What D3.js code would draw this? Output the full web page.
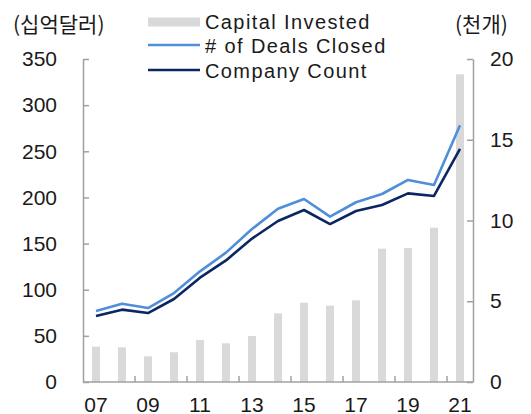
<!DOCTYPE html>
<html>
<head>
<meta charset="utf-8">
<script src="https://cdn.jsdelivr.net/npm/d3@7/dist/d3.min.js"></script>
<style>
  html, body { margin: 0; padding: 0; background: #fff; }
  svg { display: block; }
  text { font-family: "Liberation Sans", Arial, "Noto Sans CJK KR", sans-serif; fill: #1a1a1a; }
  .kr { font-family: "Noto Sans CJK KR", "Liberation Sans", sans-serif; }
</style>
</head>
<body>
<svg id="chart" width="531" height="414"></svg>
<script>
// Years (20xx) shown along the horizontal axis
const years = ['07','08','09','10','11','12','13','14','15','16','17','18','19','20','21'];
// Capital invested, billions of dollars (left axis)
const capitalInvested = [38.3, 37.6, 27.8, 32.2, 45.5, 41.9, 49.8, 74.4, 85.9, 82.7, 88.5, 144.5, 145.2, 167.2, 333.4];
// Number of deals closed, thousands (right axis)
const dealsClosed = [4.40, 4.85, 4.58, 5.51, 6.85, 8.01, 9.47, 10.73, 11.33, 10.24, 11.13, 11.64, 12.51, 12.20, 15.90];
// Number of companies, thousands (right axis)
const companyCount = [4.09, 4.48, 4.27, 5.14, 6.46, 7.53, 8.88, 9.97, 10.65, 9.78, 10.59, 10.96, 11.68, 11.52, 14.43];
// Axis ticks and labels
const leftTicks = [0, 50, 100, 150, 200, 250, 300, 350];
const rightTicks = [0, 5, 10, 15, 20];
const yearLabels = ['07','09','11','13','15','17','19','21'];
const seriesNames = ['Capital Invested', '# of Deals Closed', 'Company Count'];

const colors = { bar: '#d9d9d9', deals: '#4f8fd9', company: '#0b2763', axis: '#a0a0a0' };
const plot = { left: 83, right: 473, top: 59, bottom: 382 };
const fontSize = 21;

const svg = d3.select('#chart');

const x = d3.scaleBand().domain(years).range([plot.left, plot.right]).paddingInner(0).paddingOuter(0);
const yL = d3.scaleLinear().domain([0, 350]).range([plot.bottom, plot.top]);
const yR = d3.scaleLinear().domain([0, 20]).range([plot.bottom, plot.top]);
const cx = d => x(d) + x.bandwidth() / 2;
const barW = 8;

// Bars
svg.append('g').selectAll('rect').data(years).join('rect')
  .attr('x', (d) => cx(d) - barW / 2)
  .attr('width', barW)
  .attr('y', (d, i) => yL(capitalInvested[i]))
  .attr('height', (d, i) => plot.bottom - yL(capitalInvested[i]))
  .attr('fill', colors.bar);

// Lines
const line = d3.line().x((d, i) => cx(years[i])).y(d => yR(d));
svg.append('path').datum(dealsClosed).attr('d', line)
  .attr('fill', 'none').attr('stroke', colors.deals).attr('stroke-width', 2.6).attr('stroke-linejoin', 'round');
svg.append('path').datum(companyCount).attr('d', line)
  .attr('fill', 'none').attr('stroke', colors.company).attr('stroke-width', 2.6).attr('stroke-linejoin', 'round');

// Left axis
const axL = svg.append('g').attr('transform', `translate(${plot.left},0)`)
  .call(d3.axisLeft(yL).tickValues(leftTicks).tickSizeInner(-6).tickSizeOuter(0).tickPadding(26));
// Right axis
const axR = svg.append('g').attr('transform', `translate(${plot.right},0)`)
  .call(d3.axisRight(yR).tickValues(rightTicks).tickSizeInner(-6).tickSizeOuter(0).tickPadding(17));
[axL, axR].forEach(ax => {
  ax.select('.domain').attr('stroke', colors.axis).attr('stroke-width', 1.5);
  ax.selectAll('.tick line').attr('stroke', colors.axis).attr('stroke-width', 1.5);
  ax.selectAll('.tick text').attr('font-size', fontSize).attr('font-family', null).attr('fill', '#1a1a1a');
});

// Bottom axis: baseline, inward ticks every two years, labels under odd years
svg.append('line').attr('x1', plot.left).attr('x2', plot.right)
  .attr('y1', plot.bottom).attr('y2', plot.bottom)
  .attr('stroke', colors.axis).attr('stroke-width', 1.5);
svg.append('g').selectAll('line').data(years.filter((d, i) => i > 0 && i % 2 === 0)).join('line')
  .attr('x1', d => x(d)).attr('x2', d => x(d))
  .attr('y1', plot.bottom).attr('y2', plot.bottom - 6)
  .attr('stroke', colors.axis).attr('stroke-width', 1.5);
svg.append('g').selectAll('text').data(yearLabels).join('text')
  .attr('x', d => cx(d)).attr('y', 411.5)
  .attr('text-anchor', 'middle').attr('font-size', fontSize).text(d => d);

// Axis unit titles
svg.append('text').attr('class', 'kr').attr('x', 13).attr('y', 32).attr('font-size', fontSize).text('(십억달러)');
svg.append('text').attr('class', 'kr').attr('x', 455).attr('y', 32).attr('font-size', fontSize).text('(천개)');

// Legend
const lg = svg.append('g');
const lgX = 148, lgW = 52, lgTextX = 205, lgRows = [22, 45, 70];
lg.append('rect').attr('x', lgX).attr('y', lgRows[0] - 4.5).attr('width', lgW).attr('height', 9).attr('fill', colors.bar);
lg.append('line').attr('x1', lgX).attr('x2', lgX + lgW).attr('y1', lgRows[1]).attr('y2', lgRows[1])
  .attr('stroke', colors.deals).attr('stroke-width', 2.6);
lg.append('line').attr('x1', lgX).attr('x2', lgX + lgW).attr('y1', lgRows[2]).attr('y2', lgRows[2])
  .attr('stroke', colors.company).attr('stroke-width', 2.6);
lg.selectAll('text').data(seriesNames).join('text')
  .attr('x', lgTextX).attr('y', (d, i) => [28.5, 53.3, 77.7][i])
  .attr('font-size', 20).attr('letter-spacing', 1.4).text(d => d);
</script>
</body>
</html>
